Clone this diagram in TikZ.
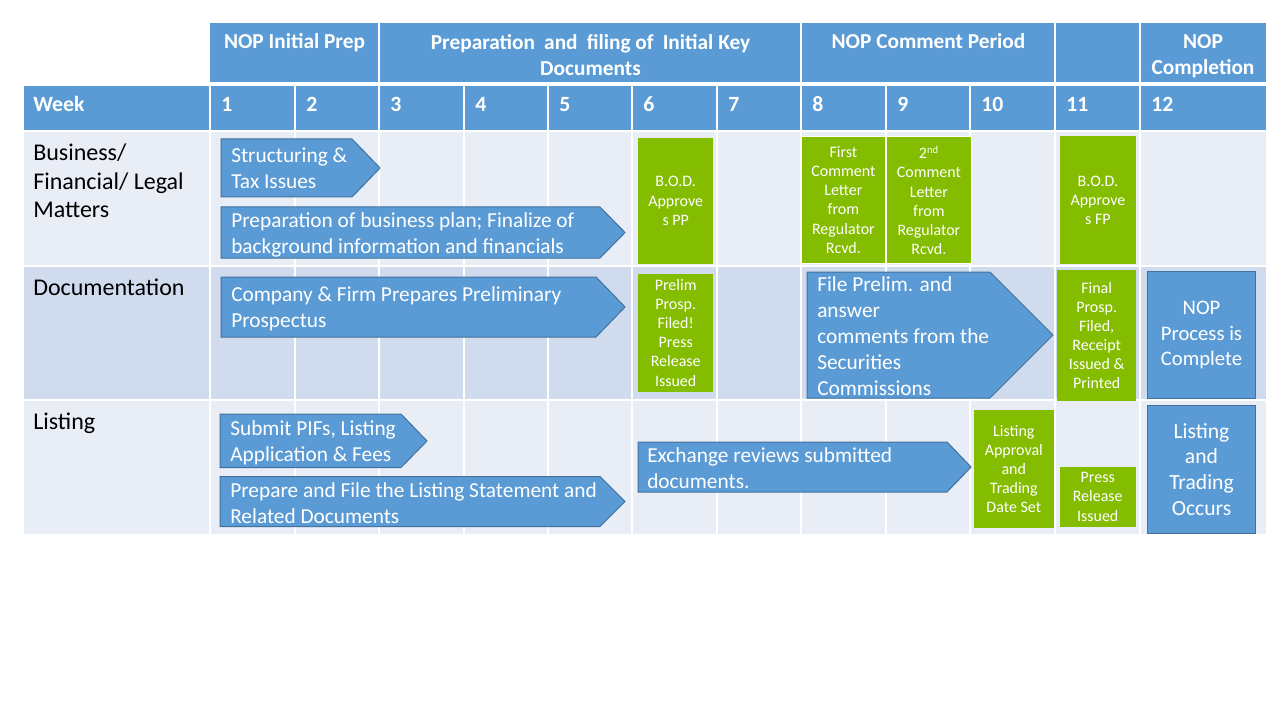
\documentclass[tikz,border=0pt]{standalone}
\usepackage{fontspec}
\setmainfont{Carlito}
\definecolor{hdr}{HTML}{5B9BD5}
\definecolor{rowA}{HTML}{E9EDF5}
\definecolor{rowB}{HTML}{D0DBEE}
\definecolor{grn}{HTML}{84BC00}
\definecolor{abord}{HTML}{41719C}
\newcommand\pu[1]{#1*0.75pt}
\tikzset{
 arrowbox/.style={fill=hdr, draw=abord, line width=0.75pt},
 arrowtext/.style={anchor=west, inner sep=0pt, align=left, text=white, font=\fontsize{16}{19.5}\selectfont},
 greenbox/.style={fill=grn, text=white, align=center, inner sep=0pt, font=\fontsize{12}{14.3}\selectfont},
 bluebox/.style={fill=hdr, draw=abord, line width=0.75pt, text=white, align=center, inner sep=0pt, font=\fontsize{15.5}{19}\selectfont},
 hdrtext/.style={text=white, font=\bfseries\fontsize{16}{19.5}\selectfont, align=center, inner sep=0pt},
 weektext/.style={text=white, font=\bfseries\fontsize{16.3}{19.5}\selectfont, anchor=base west, inner sep=0pt},
 rowlabel/.style={align=left, inner sep=0pt, font=\fontsize{18}{21.4}\selectfont},
 gridline/.style={white, line width=1.2pt},
}
\begin{document}
\begin{tikzpicture}[x=0.75pt,y=-0.75pt]
\useasboundingbox (0,0) rectangle (1280,720);
\fill[white] (0,0) rectangle (1280,720);
% backgrounds
\fill[hdr] (210,23) rectangle (1266,82);
\fill[hdr] (24,86) rectangle (1266,131);
\fill[rowA] (24,131) rectangle (1266,266);
\fill[rowB] (24,266) rectangle (1266,400);
\fill[rowA] (24,400) rectangle (1266,534);
% grid
\foreach \c in {210,295,379,464,548,632,717,801,886,970,1055,1140}
  \draw[gridline] (\c,86) -- (\c,534);
\foreach \c in {379,801,1055,1140}
  \draw[gridline, line width=1.5pt] (\c,23) -- (\c,82);
\foreach \r in {131,266,400}
  \draw[gridline, line width=1.5pt] (24,\r) -- (1266,\r);
% header row 1
\node[hdrtext, anchor=base] (h1) at (294.5,49) {NOP Initial Prep};
\node[hdrtext, anchor=north] (h2) at (590.5,34) {Preparation\hspace{0.2em} and\hspace{0.2em} filing of\hspace{0.2em} Initial Key\\Documents};
\node[hdrtext, anchor=base] (h3) at (928.5,49) {NOP Comment Period};
\node[hdrtext, anchor=north] (h4) at (1203,34) {NOP\\Completion};
% week row
\node[weektext] (wk) at (33,112) {Week};
\foreach \n/\c in {1/210,2/295,3/379,4/464,5/548,6/632,7/717,8/801,9/886,10/970,11/1055,12/1140}
  \node[weektext] (w\n) at (\c+11,112) {\n};
% row labels
\node[rowlabel, anchor=north west] (rbus) at (33,144) {Business/\\Financial/ Legal\\Matters};
\node[rowlabel, anchor=base west] (rdoc) at (33,295) {Documentation};
\node[rowlabel, anchor=base west] (rlist) at (33,429) {Listing};
% arrows
\draw[arrowbox] (221,139) -- (352,139) -- (380,168) -- (352,197) -- (221,197) -- cycle;
\node[arrowtext] (a1) at (231,168.5) {Structuring \&\\Tax Issues};
\draw[arrowbox] (221,207) -- (600,207) -- (625,232.5) -- (600,258) -- (221,258) -- cycle;
\node[arrowtext] (a2) at (231,235) {Preparation of business plan; Finalize of\\background information and financials};
\draw[arrowbox] (221,277) -- (596,277) -- (625,307) -- (596,337) -- (221,337) -- cycle;
\node[arrowtext] (a3) at (231,309) {Company \& Firm Prepares Preliminary\\Prospectus};
\draw[arrowbox] (220,414) -- (401,414) -- (427,441) -- (401,467.5) -- (220,467.5) -- cycle;
\node[arrowtext] (a4) at (230,442.5) {Submit PIFs, Listing\\Application \& Fees};
\draw[arrowbox] (220,476.5) -- (600,476.5) -- (625,501.5) -- (600,526.5) -- (220,526.5) -- cycle;
\node[arrowtext] (a5) at (230,503) {Prepare and File the Listing Statement and\\Related Documents};
\draw[arrowbox] (638,442) -- (947,442) -- (971,467) -- (947,492) -- (638,492) -- cycle;
\node[arrowtext] (a6) at (647,468) {Exchange reviews submitted\\documents.};
\draw[arrowbox] (807,272) -- (990,272) -- (1053,335) -- (990,398) -- (807,398) -- cycle;
\node[arrowtext] (a7) at (817,336) {File Prelim. and\\answer\\comments from the\\Securities\\Commissions};
% green boxes
\node[greenbox, minimum width=\pu{75.4}, minimum height=\pu{126.3}] (bodpp) at (675.7,200.9) {B.O.D.\\Approve\\s PP};
\node[greenbox, draw=white, line width=0.75pt, minimum width=\pu{83.2}, minimum height=\pu{126.6}] (first) at (843.4,200) {First\\Comment\\Letter\\from\\Regulator\\Rcvd.};
\node[greenbox, draw=white, line width=0.75pt, minimum width=\pu{84.2}, minimum height=\pu{126.6}] (second) at (928.9,200) {2\textsuperscript{nd}\\Comment\\Letter\\from\\Regulator\\Rcvd.};
\node[greenbox, minimum width=\pu{76.2}, minimum height=\pu{128}] (bodfp) at (1097.9,200) {B.O.D.\\Approve\\s FP};
\node[greenbox, minimum width=\pu{75.4}, minimum height=\pu{117.7}] (prelim) at (675.7,332.9) {Prelim\\Prosp.\\Filed!\\Press\\Release\\Issued};
\node[greenbox, minimum width=\pu{79.5}, minimum height=\pu{130.7}] (final) at (1096.7,335.4) {Final\\Prosp.\\Filed,\\Receipt\\Issued \&\\Printed};
\node[greenbox, minimum width=\pu{79.5}, minimum height=\pu{117.7}] (lappr) at (1013.8,468.9) {Listing\\Approval\\and\\Trading\\Date Set};
\node[greenbox, minimum width=\pu{75.8}, minimum height=\pu{59.7}] (press) at (1097.7,496.9) {Press\\Release\\Issued};
% blue boxes
\node[bluebox, minimum width=\pu{108}, minimum height=\pu{126.6}] (done) at (1201.5,335) {NOP\\Process is\\Complete};
\node[bluebox, font=\fontsize{16.2}{19.3}\selectfont, minimum width=\pu{108}, minimum height=\pu{128}] (trade) at (1201.5,469.3) {Listing\\and\\Trading\\Occurs};
\end{tikzpicture}
\end{document}
